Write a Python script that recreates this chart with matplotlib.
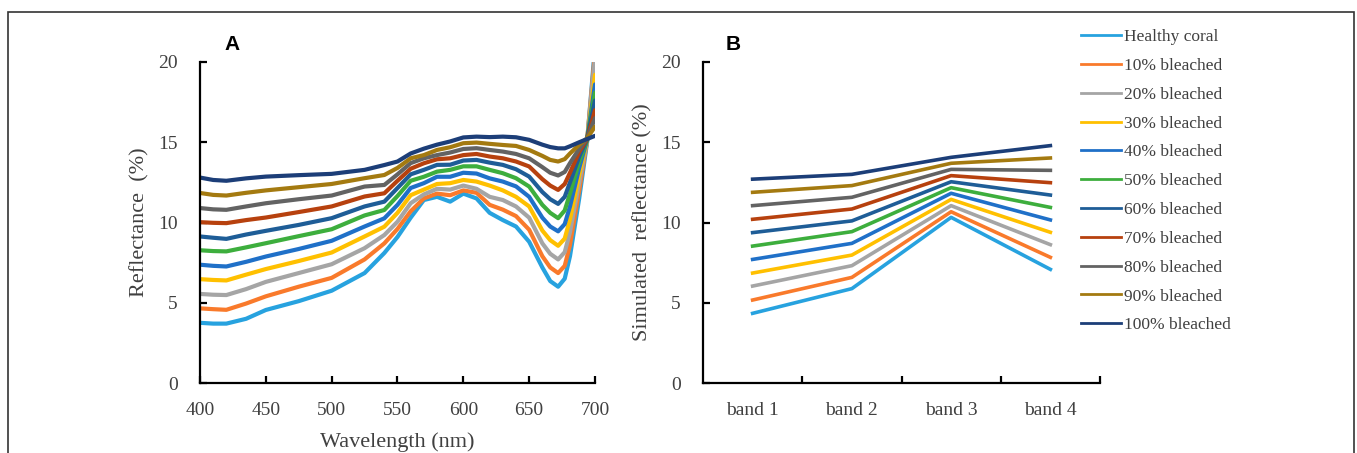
import numpy as np
import matplotlib
matplotlib.use("Agg")
import matplotlib.pyplot as plt
from matplotlib.patches import Rectangle

# spectra (panel A)
wavelength = [400, 410, 420, 435, 450, 475, 500, 525, 540, 550, 560, 570, 580, 590,
              600, 610, 620, 630, 640, 650, 660, 666, 672, 677, 681, 688, 694, 700]

healthy = [3.75, 3.7, 3.7, 4.0, 4.55, 5.1, 5.75, 6.85, 8.1, 9.1, 10.3, 11.4, 11.6, 11.3,
           11.8, 11.5, 10.6, 10.15, 9.75, 8.8, 7.2, 6.35, 6.0, 6.5, 7.9, 11.5, 15.0, 21.0]
b10 = [4.65, 4.6, 4.56, 4.95, 5.4, 6.0, 6.55, 7.7, 8.7, 9.6, 10.7, 11.5, 11.8, 11.7,
       12.0, 11.85, 11.1, 10.8, 10.4, 9.55, 7.9, 7.2, 6.85, 7.3, 8.6, 12.0, 15.1, 20.6]
b20 = [5.55, 5.5, 5.48, 5.85, 6.3, 6.85, 7.4, 8.4, 9.22, 10.05, 11.2, 11.75, 12.1, 12.05,
       12.3, 12.1, 11.6, 11.4, 11.0, 10.3, 8.7, 8.05, 7.7, 8.15, 9.4, 12.5, 15.1, 20.2]
b30 = [6.47, 6.42, 6.39, 6.75, 7.1, 7.6, 8.13, 9.13, 9.74, 10.6, 11.7, 12.05, 12.4, 12.45,
       12.65, 12.55, 12.3, 12.0, 11.6, 11.0, 9.5, 8.9, 8.55, 9.0, 10.2, 13.0, 15.15, 19.2]
b40 = [7.37, 7.3, 7.26, 7.55, 7.88, 8.35, 8.86, 9.75, 10.26, 11.1, 12.15, 12.45, 12.85, 12.85,
       13.1, 13.05, 12.75, 12.55, 12.25, 11.6, 10.3, 9.75, 9.45, 9.9, 11.0, 13.4, 15.15, 18.6]
b50 = [8.27, 8.22, 8.2, 8.45, 8.71, 9.15, 9.58, 10.44, 10.78, 11.65, 12.6, 12.85, 13.17, 13.28,
       13.5, 13.5, 13.28, 13.07, 12.76, 12.24, 11.1, 10.6, 10.27, 10.75, 11.8, 13.8, 15.15, 18.1]
b60 = [9.13, 9.05, 8.98, 9.25, 9.48, 9.85, 10.27, 11.0, 11.3, 12.15, 13.0, 13.28, 13.59, 13.6,
       13.86, 13.9, 13.73, 13.59, 13.32, 12.86, 11.9, 11.45, 11.16, 11.6, 12.5, 14.1, 15.2, 17.6]
b70 = [10.02, 9.98, 9.96, 10.15, 10.31, 10.65, 11.0, 11.62, 11.82, 12.6, 13.35, 13.69, 13.94, 14.0,
       14.2, 14.27, 14.11, 14.0, 13.8, 13.49, 12.7, 12.3, 12.03, 12.4, 13.1, 14.4, 15.2, 17.0]
b80 = [10.9, 10.82, 10.79, 11.0, 11.2, 11.45, 11.68, 12.24, 12.34, 13.0, 13.7, 14.0, 14.2, 14.36,
       14.58, 14.63, 14.52, 14.42, 14.27, 14.0, 13.45, 13.1, 12.93, 13.15, 13.7, 14.6, 15.25, 16.5]
b90 = [11.84, 11.72, 11.68, 11.85, 12.0, 12.2, 12.4, 12.76, 12.96, 13.4, 14.0, 14.2, 14.52, 14.69,
       14.94, 14.98, 14.9, 14.83, 14.77, 14.52, 14.15, 13.9, 13.8, 13.95, 14.3, 14.85, 15.25, 15.97]
b100 = [12.8, 12.65, 12.6, 12.75, 12.86, 12.95, 13.03, 13.28, 13.58, 13.8, 14.3, 14.6, 14.85, 15.05,
        15.3, 15.35, 15.32, 15.35, 15.31, 15.15, 14.85, 14.7, 14.62, 14.62, 14.75, 15.0, 15.2, 15.4]

spectra = [healthy, b10, b20, b30, b40, b50, b60, b70, b80, b90, b100]

# simulated band reflectance (panel B)
bands = ["band 1", "band 2", "band 3", "band 4"]
sim = [
    [4.34, 5.88, 10.32, 7.08],
    [5.17, 6.58, 10.67, 7.83],
    [6.04, 7.31, 11.05, 8.62],
    [6.85, 7.97, 11.44, 9.39],
    [7.70, 8.70, 11.82, 10.16],
    [8.53, 9.43, 12.17, 10.94],
    [9.37, 10.10, 12.54, 11.71],
    [10.20, 10.84, 12.92, 12.48],
    [11.05, 11.57, 13.31, 13.25],
    [11.88, 12.30, 13.69, 14.02],
    [12.70, 13.00, 14.06, 14.79],
]

labels = ["Healthy coral", "10% bleached", "20% bleached", "30% bleached", "40% bleached",
          "50% bleached", "60% bleached", "70% bleached", "80% bleached", "90% bleached",
          "100% bleached"]
colors = ["#27A2DF", "#F97A2B", "#A5A5A5", "#FFC000", "#1F70C8", "#3DAE3D",
          "#1E5D97", "#B7410E", "#636363", "#A47A10", "#1C3E78"]

plt.rcParams["font.family"] = ["Liberation Serif", "DejaVu Serif"]
txt = "#404040"

fig = plt.figure(figsize=(13.57, 4.53), dpi=100)
axA = fig.add_axes([200 / 1357, 70 / 453, 395 / 1357, 321 / 453])
axB = fig.add_axes([703 / 1357, 70 / 453, 397 / 1357, 321 / 453])

for ax in (axA, axB):
    for s in ("top", "right"):
        ax.spines[s].set_visible(False)
    for s in ("left", "bottom"):
        ax.spines[s].set_linewidth(1.6)
    ax.set_ylim(0, 20)
    ax.set_yticks([0, 5, 10, 15, 20])
    ax.tick_params(direction="in", length=5, width=1.6, labelsize=14,
                   labelcolor=txt)
    ax.tick_params(axis="y", pad=16)
    ax.tick_params(axis="x", pad=14)

# panel A
for y, c in zip(spectra, colors):
    axA.plot(wavelength, y, color=c, lw=3.0, solid_capstyle="round")
axA.set_xlim(400, 700)
axA.set_xticks(np.arange(400, 701, 50))
axA.set_xlabel("Wavelength (nm)", fontsize=16, color=txt, labelpad=9)
axA.set_ylabel("Reflectance  (%)", fontsize=16, color=txt, labelpad=6)

# panel B
x = np.arange(1, len(bands) + 1)
for y, c, lab in zip(sim, colors, labels):
    axB.plot(x, y, color=c, lw=2.6, label=lab)
axB.set_xlim(0.5, 4.5)
axB.set_xticks([1.5, 2.5, 3.5, 4.5])
axB.set_xticklabels([])
axB.set_xticks(x, minor=True)
axB.set_xticklabels(bands, minor=True)
axB.tick_params(axis="x", which="minor", length=0, labelsize=14, labelcolor=txt, pad=14)
axB.set_ylabel("Simulated  reflectance (%)", fontsize=16, color=txt, labelpad=6)

fig.text(232 / 1357, 1 - 45 / 453, "A", fontsize=15, fontweight="bold",
         family="Liberation Sans", ha="center", va="center")
fig.text(733 / 1357, 1 - 45 / 453, "B", fontsize=15, fontweight="bold",
         family="Liberation Sans", ha="center", va="center")

leg = fig.legend(loc="upper left", bbox_to_anchor=(1074 / 1357, 1 - 22 / 453),
                 frameon=False, fontsize=12.5, handlelength=2.3, handletextpad=0.2,
                 labelspacing=0.73, borderaxespad=0)
for t in leg.get_texts():
    t.set_color(txt)
for h in leg.legend_handles:
    h.set_linewidth(2.0)

fig.patches.append(Rectangle((8 / 1357, -0.05), 1346 / 1357, 1.05 - 12 / 453,
                             transform=fig.transFigure, fill=False,
                             edgecolor="#333333", lw=1.2))

fig.savefig("out.png", dpi=100)
